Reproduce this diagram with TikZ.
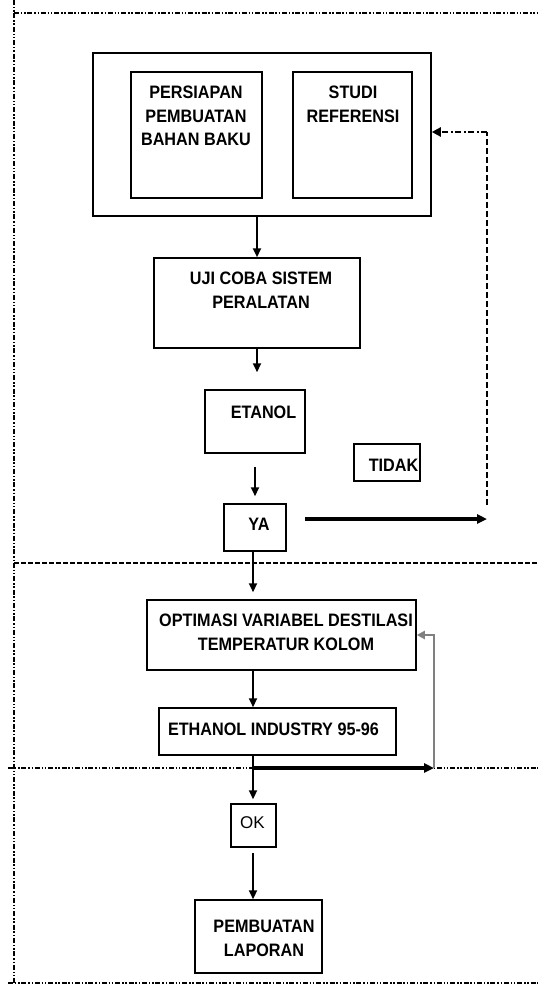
\documentclass[tikz,border=0pt]{standalone}
\usepackage{fontspec}
\setmainfont{Liberation Sans}
\newfontfamily\labfont[FakeStretch=0.9]{Liberation Sans}
\usetikzlibrary{arrows.meta}
\tikzset{
  box/.style={draw, line width=1.5pt, inner sep=0pt},
  lbl/.style={font=\labfont\bfseries\fontsize{18}{23.5}\selectfont, align=center, inner sep=0pt, anchor=north},
  arr/.style={line width=2.2pt, -{Triangle[length=9pt,width=8pt]}},
  framedd/.style={line width=2pt, dash pattern=on 5pt off 1.8pt on 1.5pt off 1.8pt on 1.5pt off 1.8pt},
  framedash/.style={line width=2pt, dash pattern=on 5pt off 2pt},
}
\newcommand{\boxat}[5]{%
  \pgfmathsetmacro{\bxw}{#4-#2}%
  \pgfmathsetmacro{\bxh}{#5-#3}%
  \pgfmathsetmacro{\bxx}{(#2+#4)/2}%
  \pgfmathsetmacro{\bxy}{(#3+#5)/2}%
  \node[box, minimum width=\bxw pt, minimum height=\bxh pt] (#1) at (\bxx,\bxy) {};}
\begin{document}
\begin{tikzpicture}[x=1pt,y=-1pt]
\useasboundingbox (0,0) rectangle (538,990);
% frame lines
\draw[framedd] (14,13) -- (538,13);
\draw[framedd] (14,0) -- (14,983);
\draw[framedash] (14,563) -- (538,563);
\draw[framedd] (8,768) -- (538,768);
\draw[framedd] (8,983) -- (538,983);
% boxes
\boxat{outer}{93}{53}{431}{216}
\boxat{persiapan}{131}{72}{262}{198}
\boxat{studi}{293}{72}{412}{198}
\boxat{uji}{154}{258}{360}{348}
\boxat{etanol}{205}{390}{305}{453}
\boxat{tidak}{354}{444}{420}{481}
\boxat{ya}{224}{504}{286}{551}
\boxat{optim}{147}{600}{416}{670}
\boxat{ethanol}{159}{708}{396}{755}
\boxat{ok}{231}{804}{276}{847}
\boxat{pemb}{195}{900}{322}{973}
% texts (north = baseline - cap height)
\node[lbl] (t1) at (196,86) {PERSIAPAN\\PEMBUATAN\\BAHAN BAKU};
\node[lbl] (t2) at (353,86) {STUDI\\REFERENSI};
\node[lbl] (t3) at (261,272) {UJI COBA SISTEM\\PERALATAN};
\node[lbl] (t4) at (263.5,406) {ETANOL};
\node[lbl] (t5) at (393.5,459) {TIDAK};
\node[lbl] (t6) at (259,518) {YA};
\node[lbl] (t7) at (286,614) {OPTIMASI VARIABEL DESTILASI\\TEMPERATUR KOLOM};
\node[lbl] (t8) at (273.5,723) {ETHANOL INDUSTRY 95-96};
\node[lbl, font=\fontsize{17}{20}\selectfont] (t9) at (252.5,816.5) {OK};
\node[lbl] (t10) at (264,920) {PEMBUATAN\\LAPORAN};
% coordinates
\coordinate (col) at (253,0);
\coordinate (ret) at (487,519);
\coordinate (rettop) at (487,505);
\coordinate (corner) at (487,132);
\coordinate (jn) at (253,768);
\coordinate (loopc) at (434,768);
% connectors
\draw[arr] (uji.north |- outer.south) -- (uji.north);
\draw[arr, shorten >=17pt] (uji.south) -- (uji.south |- etanol.north);
\draw[arr, shorten <=13pt, shorten >=7pt] (etanol.south) -- (etanol.south |- ya.north);
\draw[line width=3.4pt, -{Triangle[length=10pt,width=9pt]}, shorten <=18pt] (ya.east |- ret) -- (ret);
\draw[line width=1.8pt, dash pattern=on 6pt off 3pt] (rettop) -- (corner);
\draw[line width=2.2pt, dash pattern=on 6pt off 2.5pt on 2pt off 2.5pt, -{Triangle[length=9pt,width=9pt]}] (corner) -- (outer.east |- corner);
\draw[arr, shorten >=7pt] (col |- ya.south) -- (col |- optim.north);
\draw[arr] (col |- optim.south) -- (col |- ethanol.north);
\draw[arr, shorten >=4pt] (col |- ethanol.south) -- (col |- ok.north);
\draw[line width=3.2pt, -{Triangle[length=10pt,width=9pt]}] (jn) -- (loopc);
\draw[gray, line width=2pt, -{Triangle[length=8pt,width=8pt]}] (loopc) |- (optim.east);
\draw[arr, shorten <=5pt] (col |- ok.south) -- (col |- pemb.north);
\end{tikzpicture}
\end{document}
